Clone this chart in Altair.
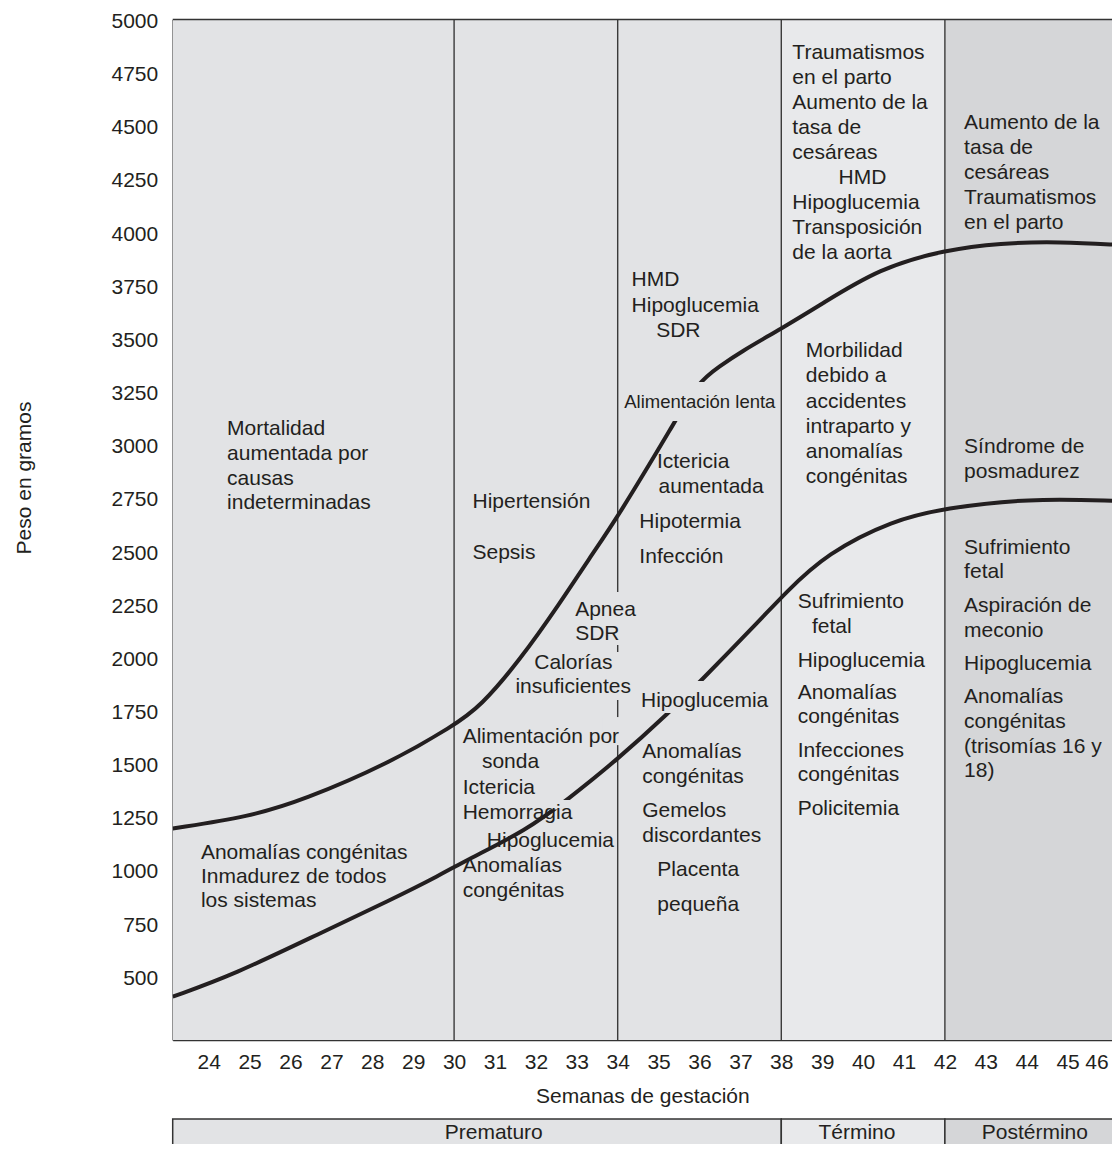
import altair as alt
import pandas as pd

# ---------------- data ----------------
upper_weeks = [23.12, 25.00, 26.32, 28.40, 30.00, 30.64, 31.61, 32.59, 33.28, 34.02,
               35.40, 35.97, 36.50, 37.00, 38.01, 38.95, 40.41, 42.00, 43.35, 44.82, 46.28]
upper_grams = [1195, 1250, 1329, 1500, 1680, 1768, 1987, 2255, 2458, 2665,
               3108, 3296, 3370, 3436, 3547, 3657, 3831, 3916, 3949, 3955, 3939]

lower_weeks = [23.12, 24.60, 26.72, 28.44, 29.66, 30.31, 31.78, 32.76, 33.98, 35.28,
               36.01, 37.48, 38.09, 39.11, 40.74, 42.00, 44.00, 46.28]
lower_grams = [404, 506, 702, 858, 976, 1047, 1188, 1329, 1517, 1744,
               1885, 2175, 2301, 2489, 2646, 2701, 2748, 2735]

boundary_weeks = [30, 34, 38, 42]
top_gram = [5000]

period_names = ["Prematuro", "Término", "Postérmino"]
period_start = [23.12, 38, 42]
period_end = [38, 42, 46.28]
period_colors = ["#e2e3e5", "#e8e9eb", "#d5d6d8"]
period_label_week = [30.97, 39.85, 44.2]

x_ticks = list(range(24, 47))
y_ticks = list(range(500, 5001, 250))

ann_text = [
    "Mortalidad", "aumentada por", "causas", "indeterminadas",
    "Anomalías congénitas", "Inmadurez de todos", "los sistemas",
    "Hipertensión", "Sepsis",
    "Apnea", "SDR", "Calorías", "insuficientes",
    "Alimentación por", "sonda", "Ictericia", "Hemorragia", "Hipoglucemia",
    "Anomalías", "congénitas",
    "HMD", "Hipoglucemia", "SDR", "Alimentación lenta", "Ictericia", "aumentada",
    "Hipotermia", "Infección", "Hipoglucemia", "Anomalías", "congénitas",
    "Gemelos", "discordantes", "Placenta", "pequeña",
    "Traumatismos", "en el parto", "Aumento de la", "tasa de", "cesáreas", "HMD",
    "Hipoglucemia", "Transposición", "de la aorta",
    "Morbilidad", "debido a", "accidentes", "intraparto y", "anomalías", "congénitas",
    "Sufrimiento", "fetal", "Hipoglucemia", "Anomalías", "congénitas",
    "Infecciones", "congénitas", "Policitemia",
    "Aumento de la", "tasa de", "cesáreas", "Traumatismos", "en el parto",
    "Síndrome de", "posmadurez",
    "Sufrimiento", "fetal", "Aspiración de", "meconio", "Hipoglucemia",
    "Anomalías", "congénitas", "(trisomías 16 y", "18)",
]
ann_week = [
    24.45, 24.45, 24.45, 24.45,
    23.81, 23.81, 23.81,
    30.45, 30.45,
    32.96, 32.96, 31.96, 31.50,
    30.21, 30.68, 30.21, 30.21, 30.80,
    30.21, 30.21,
    34.34, 34.34, 34.94, 34.16, 34.96, 35.00,
    34.53, 34.53, 34.57, 34.60, 34.60,
    34.60, 34.60, 34.97, 34.97,
    38.27, 38.27, 38.27, 38.27, 38.27, 39.40,
    38.27, 38.27, 38.27,
    38.60, 38.60, 38.60, 38.60, 38.60, 38.60,
    38.40, 38.75, 38.40, 38.40, 38.40,
    38.40, 38.40, 38.40,
    42.47, 42.47, 42.47, 42.47, 42.47,
    42.47, 42.47,
    42.47, 42.47, 42.47, 42.47, 42.47,
    42.47, 42.47, 42.47, 42.47,
]
ann_gram = [
    3046, 2928, 2810, 2696,
    1053, 940, 824,
    2701, 2461,
    2194, 2081, 1944, 1831,
    1595, 1478, 1356, 1238, 1109,
    989, 874,
    3746, 3626, 3508, 3171, 2889, 2771,
    2607, 2442, 1765, 1525, 1410,
    1250, 1133, 971, 808,
    4813, 4695, 4578, 4460, 4343, 4225,
    4107, 3990, 3872,
    3411, 3293, 3171, 3054, 2936, 2818,
    2230, 2116, 1956, 1804, 1689,
    1532, 1418, 1258,
    4485, 4367, 4250, 4132, 4015,
    2959, 2845,
    2486, 2371, 2212, 2094, 1940,
    1786, 1669, 1548, 1435,
]
ann_size = [18.5 if t == "Alimentación lenta" else 21 for t in ann_text]

# patches behind labels that interrupt lines in the original drawing
gap_week_start = [34.11, 34.50, 30.15, 33.81, 33.72, 33.64]
gap_week_end = [37.92, 37.73, 32.96, 34.21, 34.25, 34.18]
gap_gram_low = [3111, 1738, 1284, 2058, 1799, 1587]
gap_gram_high = [3295, 1889, 1329, 2307, 2025, 1719]

# ---------------- frames ----------------
curves = pd.DataFrame({
    "week": upper_weeks + lower_weeks,
    "grams": upper_grams + lower_grams,
    "curve": ["upper"] * len(upper_weeks) + ["lower"] * len(lower_weeks),
})
periods = pd.DataFrame({"name": period_names, "start": period_start, "end": period_end,
                        "label_week": period_label_week})
bounds = pd.DataFrame({"week": boundary_weeks})
top_df = pd.DataFrame({"grams": top_gram})
ann = pd.DataFrame({"text": ann_text, "week": ann_week, "grams": ann_gram, "size": ann_size})
gaps = pd.DataFrame({"w0": gap_week_start, "w1": gap_week_end,
                     "g0": gap_gram_low, "g1": gap_gram_high})

PX_PER_WEEK = 40.9
W = 1104 - 164.7
H = 1020.5
FONT = "Liberation Sans"
INK = "#231f20"
FRAME = "#333333"
last_tick = x_ticks[-1]

xscale = alt.Scale(domain=[23.12, 23.12 + W / PX_PER_WEEK], nice=False, zero=False)
yscale = alt.Scale(domain=[200, 5000], nice=False, zero=False)
color_scale = alt.Scale(domain=period_names, range=period_colors)

x_axis = alt.Axis(values=x_ticks, format="d", labelFontSize=21, labelColor=INK,
                  labelFont=FONT, labelBaseline="alphabetic", labelPadding=28,
                  labelOffset={"condition": {"test": f"datum.value == {last_tick}",
                                             "value": -12},
                               "value": 0},
                  ticks=False, tickSize=0, domain=True, domainColor=FRAME,
                  domainWidth=1.5, grid=False,
                  title="Semanas de gestación", titleFont=FONT, titleFontSize=21,
                  titleFontWeight="normal", titleColor=INK, titleY=62,
                  titleBaseline="alphabetic")
y_axis = alt.Axis(values=y_ticks, format="d", labelFontSize=21, labelColor=INK,
                  labelFont=FONT, labelPadding=15, labelOffset=2,
                  ticks=False, tickSize=0, domain=True, domainColor=FRAME,
                  domainWidth=1.5, grid=False,
                  title="Peso en gramos", titleFont=FONT, titleFontSize=21,
                  titleFontWeight="normal", titleColor=INK, titleAngle=270,
                  titleX=-142, titleY=458, titleAlign="center",
                  titleBaseline="alphabetic")

bg = alt.Chart(periods).mark_rect(clip=True).encode(
    x=alt.X("start:Q", scale=xscale, axis=x_axis),
    x2="end:Q",
    y=alt.value(0),
    y2=alt.value(H),
    color=alt.Color("name:N", scale=color_scale, legend=None),
)

rules = alt.Chart(bounds).mark_rule(color="#3a3a3a", strokeWidth=1.4).encode(
    x=alt.X("week:Q", scale=xscale),
)

top_line = alt.Chart(top_df).mark_rule(color=FRAME, strokeWidth=1.5).encode(
    y=alt.Y("grams:Q", scale=yscale),
)

lines = alt.Chart(curves).mark_line(color=INK, strokeWidth=4, interpolate="basis",
                                    clip=True).encode(
    x=alt.X("week:Q", scale=xscale),
    y=alt.Y("grams:Q", scale=yscale, axis=y_axis),
    detail="curve:N",
)

patches = alt.Chart(gaps).mark_rect(color=period_colors[0]).encode(
    x=alt.X("w0:Q", scale=xscale), x2="w1:Q",
    y=alt.Y("g0:Q", scale=yscale), y2="g1:Q",
)

labels = alt.Chart(ann).mark_text(align="left", baseline="alphabetic", font=FONT,
                                   color=INK).encode(
    x=alt.X("week:Q", scale=xscale),
    y=alt.Y("grams:Q", scale=yscale),
    text="text:N",
    size=alt.Size("size:Q", scale=None, legend=None),
)

table = alt.Chart(periods).mark_rect(stroke=FRAME, strokeWidth=1.5).encode(
    x=alt.X("start:Q", scale=xscale), x2="end:Q",
    y=alt.value(1099.5), y2=alt.value(1170),
    color=alt.Color("name:N", scale=color_scale, legend=None),
)
table_text = alt.Chart(periods).mark_text(align="center", baseline="alphabetic",
                                          font=FONT, fontSize=21, color=INK).encode(
    x=alt.X("label_week:Q", scale=xscale),
    y=alt.value(1119.5),
    text="name:N",
)

chart = alt.layer(bg, rules, top_line, lines, patches, labels, table, table_text).properties(
    width=W, height=H,
    autosize=alt.AutoSizeParams(type="none"),
    padding={"left": 164.7, "top": 11.5, "right": 0, "bottom": 104},
).configure_view(stroke=None).configure(background="white")

chart.save("out.html", embed_options={"renderer": "svg", "actions": False})
